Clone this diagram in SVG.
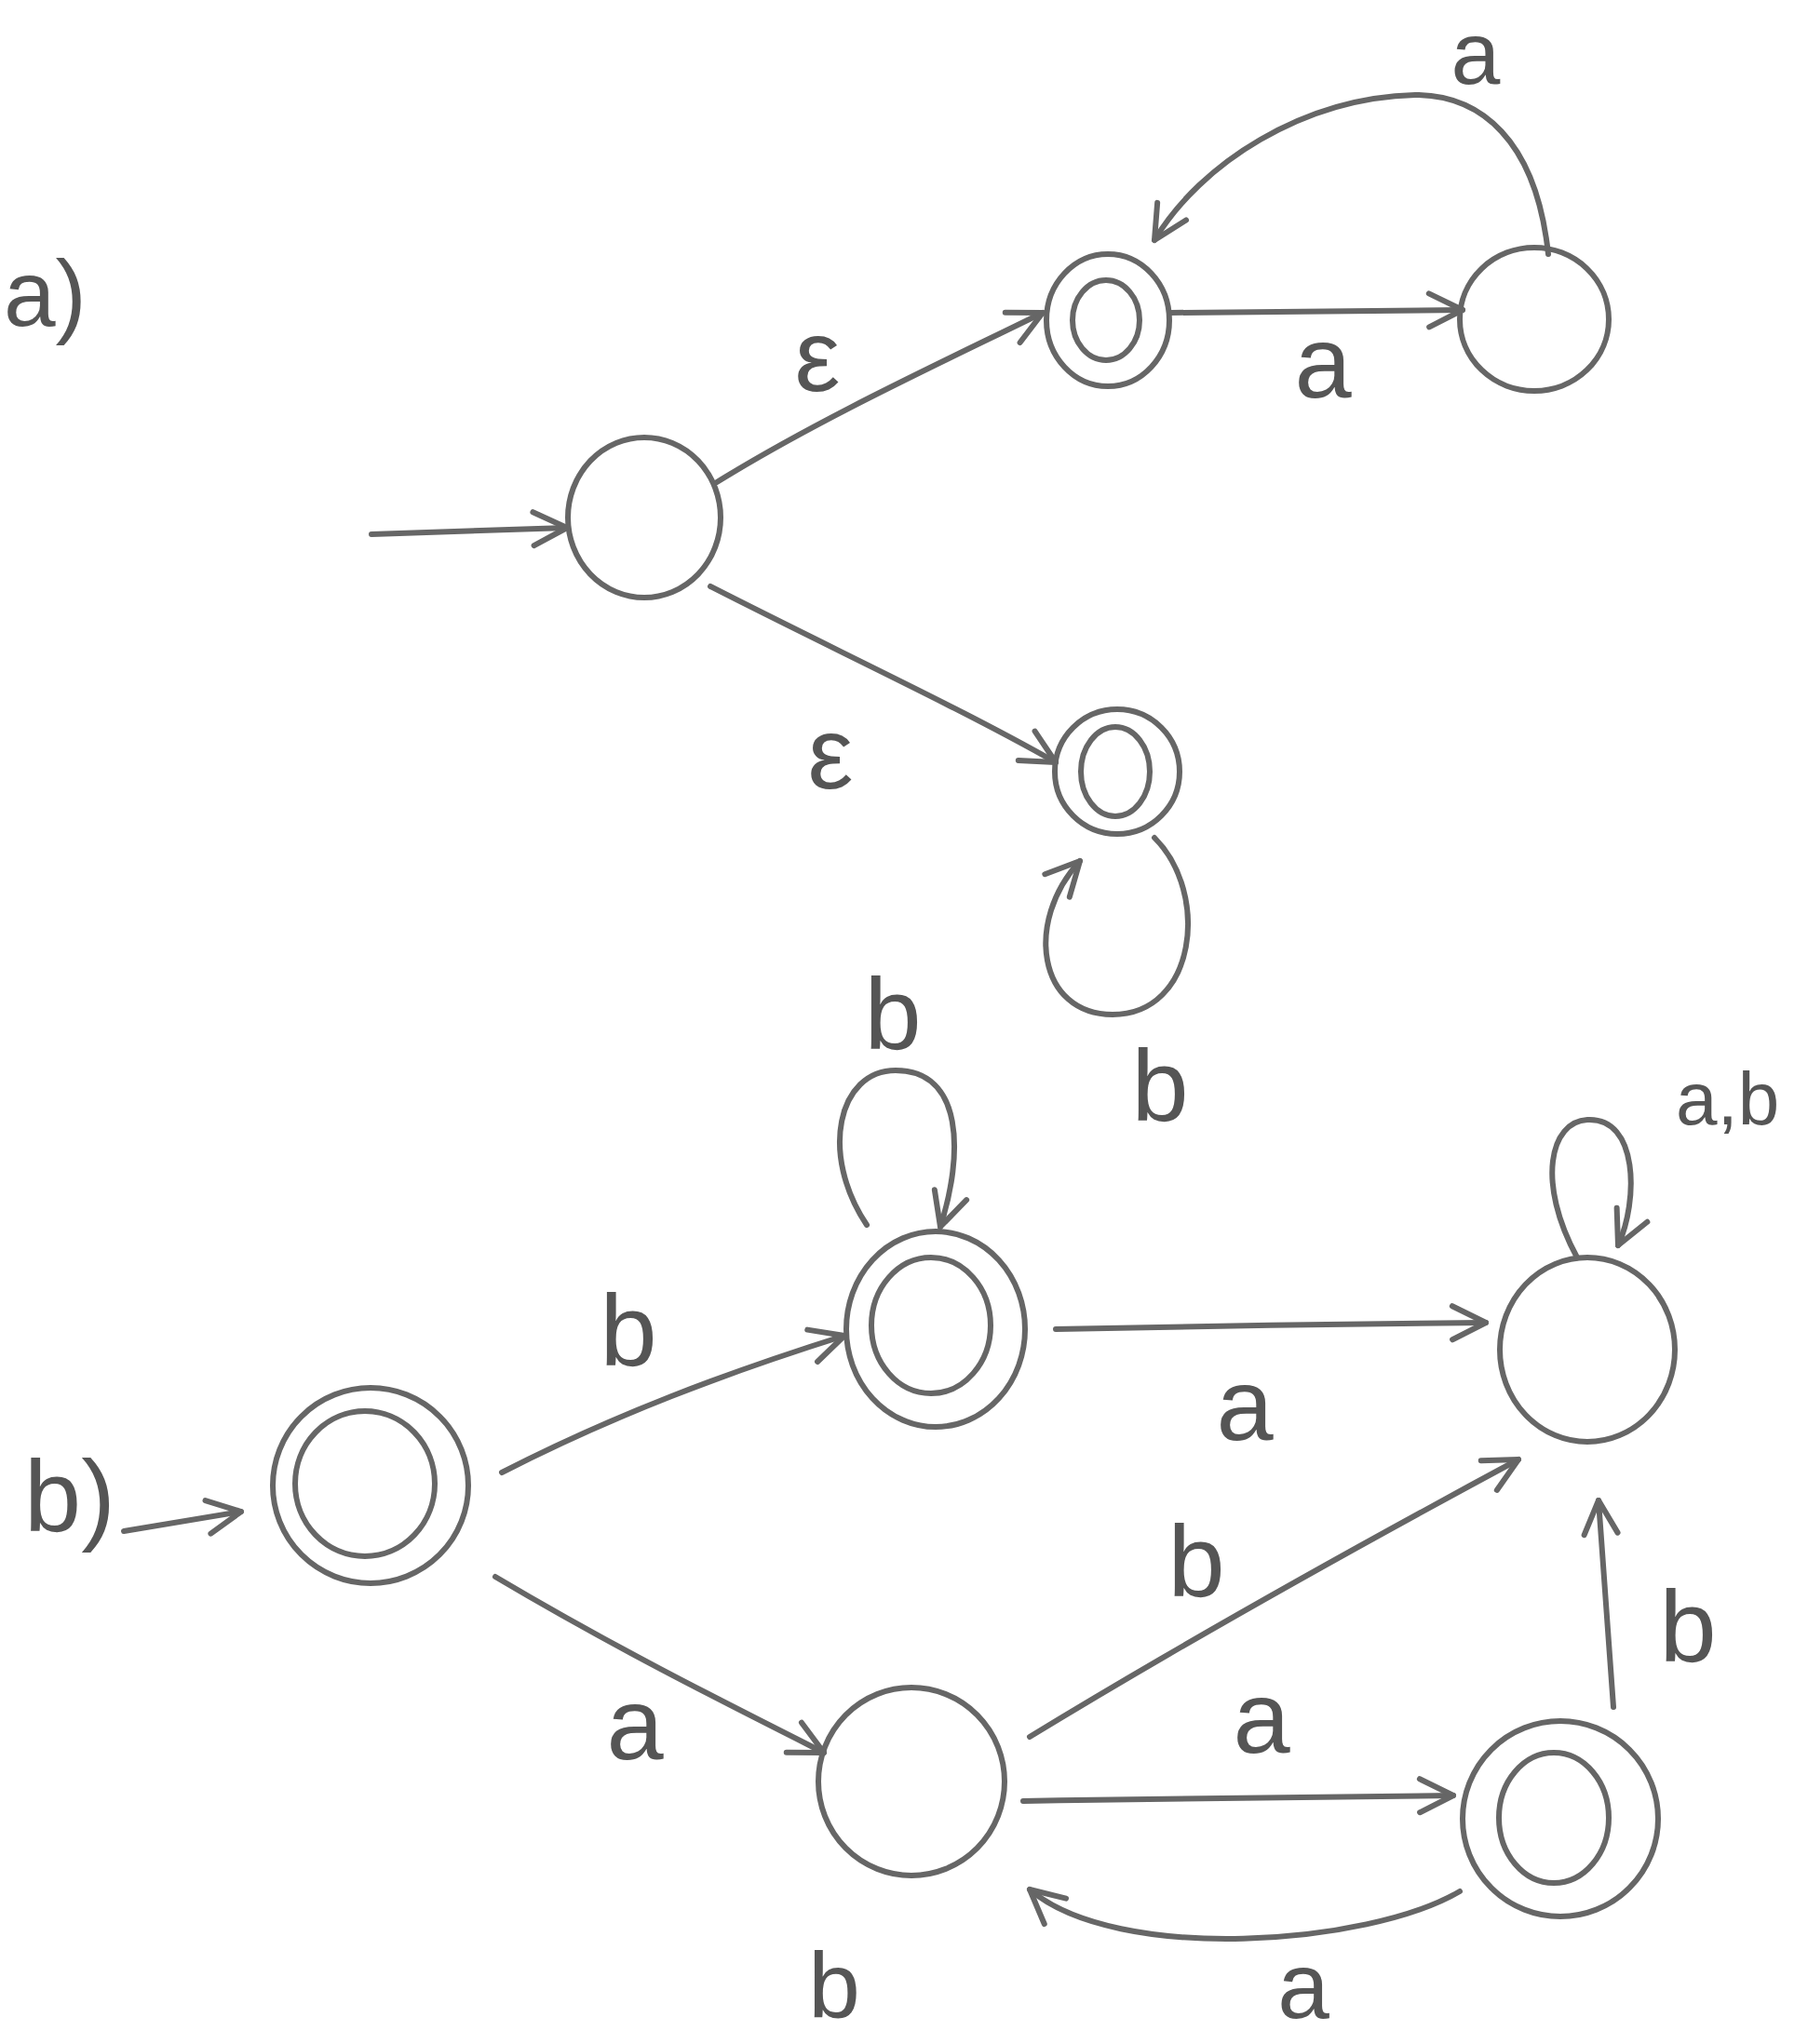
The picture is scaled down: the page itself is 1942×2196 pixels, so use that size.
<svg xmlns="http://www.w3.org/2000/svg" width="1942" height="2196" viewBox="0 0 1942 2196">
<style>
.st{fill:none;stroke:#666;stroke-width:6}
.e{fill:none;stroke:#666;stroke-width:6;stroke-linecap:round;marker-end:url(#arr)}
.t{font-family:"Liberation Sans",Arial,sans-serif;font-size:110px;fill:#555;text-anchor:middle}
</style>
<defs>
<marker id="arr" viewBox="0 0 44 44" refX="40" refY="22" markerWidth="44" markerHeight="44" markerUnits="userSpaceOnUse" orient="auto">
<path d="M4,4 L40,22 L4,40" fill="none" stroke="#666" stroke-width="6" stroke-linecap="round" stroke-linejoin="round"/>
</marker>
</defs>
<rect width="1942" height="2196" fill="#fff"/>
<text class="t" x="4" y="350" style="text-anchor:start;font-size:100px">a)</text>
<text class="t" x="75" y="1645">b)</text>
<g id="a_q0"><ellipse class="st" cx="692" cy="556" rx="82" ry="86"/></g>
<g id="a_q1"><ellipse class="st" cx="1190" cy="344" rx="66" ry="71"/><ellipse class="st" cx="1188" cy="344" rx="36" ry="43"/></g>
<g id="a_q2"><ellipse class="st" cx="1648" cy="343" rx="80" ry="77"/></g>
<g id="a_q3"><ellipse class="st" cx="1200" cy="829" rx="67" ry="67"/><ellipse class="st" cx="1198" cy="829" rx="37" ry="48"/></g>
<g id="b_p0"><circle class="st" cx="398" cy="1596" r="105"/><ellipse class="st" cx="392" cy="1594" rx="75" ry="78"/></g>
<g id="b_p1"><ellipse class="st" cx="1005" cy="1428" rx="96" ry="105"/><ellipse class="st" cx="1000" cy="1424" rx="64" ry="73"/></g>
<g id="b_p2"><ellipse class="st" cx="1705" cy="1450" rx="94" ry="99"/></g>
<g id="b_p3"><ellipse class="st" cx="979" cy="1914" rx="100" ry="101"/></g>
<g id="b_p4"><circle class="st" cx="1676" cy="1954" r="105"/><ellipse class="st" cx="1669" cy="1953" rx="59" ry="70"/></g>
<g id="connectors">
<path class="e" d="M399,574 L609,567"/>
<path class="e" d="M770,518 C880,450 1010,390 1120,336"/>
<path class="e" d="M1257,336 L1571,333"/>
<path class="e" d="M1663,273 C1650,150 1590,102 1520,102 C1400,105 1290,175 1240,258"/>
<path class="e" d="M763,630 C900,700 1030,760 1134,819"/>
<path class="e" d="M1240,900 C1300,960 1285,1090 1195,1090 C1115,1090 1100,990 1160,925"/>
<path class="e" d="M133,1645 L259,1624"/>
<path class="e" d="M539,1582 C660,1520 780,1475 907,1435"/>
<path class="e" d="M931,1316 C880,1240 900,1150 962,1150 C1035,1150 1035,1240 1010,1318"/>
<path class="e" d="M1134,1428 C1280,1425 1450,1422 1596,1421"/>
<path class="e" d="M1694,1351 C1650,1270 1665,1205 1705,1203 C1760,1200 1760,1290 1738,1338"/>
<path class="e" d="M532,1694 C660,1770 780,1830 885,1883"/>
<path class="e" d="M1106,1866 C1280,1760 1460,1660 1631,1568"/>
<path class="e" d="M1099,1935 C1250,1932 1400,1930 1561,1929"/>
<path class="e" d="M1733,1834 L1717,1612"/>
<path class="e" d="M1568,2032 C1470,2090 1200,2110 1106,2030"/>
</g>
<text class="t" x="1585" y="90" style="font-size:95px">a</text>
<text class="t" x="1421" y="427">a</text>
<text class="t" x="878" y="420">ε</text>
<text class="t" x="892" y="847">ε</text>
<text class="t" x="1246" y="1204">b</text>
<text class="t" x="675" y="1467">b</text>
<text class="t" x="959" y="1127">b</text>
<text class="t" x="1337" y="1547">a</text>
<text class="t" x="1800" y="1208" style="font-size:80px;text-anchor:start">a,b</text>
<text class="t" x="682" y="1890">a</text>
<text class="t" x="1285" y="1715">b</text>
<text class="t" x="1355" y="1883">a</text>
<text class="t" x="1813" y="1785">b</text>
<text class="t" x="896" y="2168" style="font-size:100px">b</text>
<text class="t" x="1400" y="2168" style="font-size:100px">a</text>
</svg>
